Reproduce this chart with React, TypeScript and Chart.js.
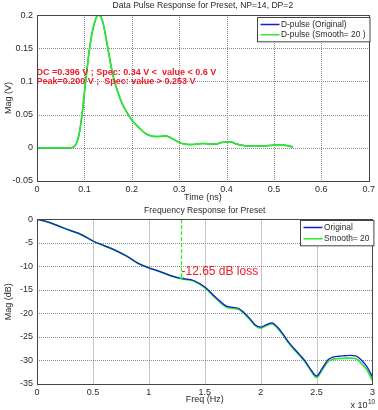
import React, { useEffect, useRef } from 'react';
import { Chart, registerables } from 'chart.js';
Chart.register(...registerables);

const FONT = '"Liberation Sans", Arial, Helvetica, sans-serif';

// ---------- Top chart: data pulse response ----------
const pulseTitle = 'Data Pulse Response for Preset, NP=14, DP=2';
const pulseLabels = ['D-pulse (Original)', 'D-pulse (Smooth= 20 )'];
const pulseTimes = [
  0, 0.01, 0.02, 0.03, 0.04, 0.05, 0.06, 0.07, 0.075, 0.08, 0.085, 0.09, 0.095,
  0.1, 0.105, 0.11, 0.115, 0.12, 0.125, 0.13, 0.135, 0.14, 0.145, 0.15, 0.155,
  0.16, 0.165, 0.17, 0.175, 0.18, 0.19, 0.2, 0.21, 0.22, 0.23, 0.24, 0.25, 0.26,
  0.27, 0.28, 0.29, 0.3, 0.31, 0.32, 0.33, 0.34, 0.35, 0.36, 0.37, 0.38, 0.39,
  0.4, 0.41, 0.42, 0.43, 0.44, 0.45, 0.46, 0.47, 0.48, 0.49, 0.5, 0.51, 0.52,
  0.53, 0.54,
];
const pulseOriginal = [
  0, 0, 0, 0, 0, 0, 0, 0, 0.0005, 0.003, 0.01, 0.025, 0.05,
  0.083, 0.115, 0.145, 0.168, 0.185, 0.196, 0.2, 0.197, 0.186, 0.168, 0.148, 0.128,
  0.11, 0.097, 0.085, 0.075, 0.066, 0.053, 0.042, 0.034, 0.027, 0.021, 0.018, 0.017, 0.017,
  0.018, 0.016, 0.012, 0.008, 0.006, 0.005, 0.005, 0.006, 0.0065, 0.006, 0.0055, 0.006, 0.008,
  0.009, 0.0085, 0.006, 0.004, 0.003, 0.0025, 0.0025, 0.0025, 0.0028, 0.0035, 0.004, 0.0042, 0.004,
  0.003, 0.001,
];
const pulseSmooth = [
  0, 0, 0, 0, 0, 0, 0, 0, 0.0005, 0.003, 0.01, 0.025, 0.05,
  0.083, 0.115, 0.145, 0.168, 0.185, 0.196, 0.2, 0.197, 0.186, 0.168, 0.148, 0.128,
  0.11, 0.097, 0.085, 0.075, 0.066, 0.053, 0.042, 0.034, 0.027, 0.021, 0.018, 0.017, 0.017,
  0.018, 0.016, 0.012, 0.008, 0.006, 0.005, 0.005, 0.006, 0.0065, 0.006, 0.0055, 0.006, 0.008,
  0.009, 0.0085, 0.006, 0.004, 0.003, 0.0025, 0.0025, 0.0025, 0.0028, 0.0035, 0.004, 0.0042, 0.004,
  0.003, 0.001,
];
const pulseAnnotations = [
  'DC =0.396 V ; Spec: 0.34 V <  value < 0.6 V',
  'Peak=0.200 V ;  Spec: value > 0.253 V',
];
const pulseAnnotationY = [0.114, 0.1];

// ---------- Bottom chart: frequency response ----------
const freqTitle = 'Frequency Response for Preset';
const freqLabels = ['Original', 'Smooth= 20'];
// frequency in units of 1e10 Hz
const freqs = [
  0, 0.1, 0.2, 0.3, 0.4, 0.5, 0.6, 0.7, 0.8, 0.9, 1.0, 1.1, 1.2, 1.3, 1.4, 1.5,
  1.6, 1.7, 1.8, 1.85, 1.9, 1.95, 2.0, 2.05, 2.1, 2.15, 2.2, 2.25, 2.3, 2.35, 2.4,
  2.45, 2.5, 2.55, 2.6, 2.65, 2.7, 2.75, 2.8, 2.85, 2.9, 2.95, 3.0,
];
const magOriginal = [
  0, -0.6, -1.5, -2.4, -3.3, -4.6, -5.6, -6.6, -7.8, -9.3, -10.3, -11.1, -12.0, -12.6, -13.0, -14.4,
  -16.6, -18.5, -18.9, -19.8, -21.0, -22.4, -22.9, -22.4, -22.0, -22.9, -24.4, -26.1, -27.5, -28.8, -30.2,
  -32.0, -33.3, -31.7, -29.9, -29.3, -29.1, -29.0, -28.9, -29.0, -29.9, -31.3, -33.5,
];
const magSmooth = [
  0, -0.6, -1.5, -2.4, -3.3, -4.6, -5.6, -6.6, -7.8, -9.3, -10.3, -11.1, -12.0, -12.65, -13.1, -14.5,
  -16.8, -18.7, -19.1, -20.0, -21.2, -22.6, -23.1, -22.6, -22.2, -23.1, -24.6, -26.3, -27.7, -29.0, -30.4,
  -32.2, -33.6, -32.0, -30.3, -29.7, -29.6, -29.55, -29.5, -29.6, -30.6, -32.0, -34.3,
];
const lossFreq = 1.29;
const lossValue = -12.65;
const lossText = '-12.65 dB loss';
const lossTextY = -11.1;

const BLUE = '#1a1ad8';
const GREEN = '#30e830';
const RED = '#ec1c2c';
const TEXT = '#2a2a2a';

const gridPlugin = {
  id: 'dottedGrid',
  beforeDatasetsDraw(chart: any) {
    const { ctx, chartArea } = chart;
    const xs = chart.scales.x, ys = chart.scales.y;
    ctx.save();
    ctx.strokeStyle = '#8a8a8a';
    ctx.lineWidth = 1;
    ctx.setLineDash([1, 1]);
    for (const t of xs.ticks) {
      const x = Math.round(xs.getPixelForValue(t.value)) + 0.5;
      ctx.beginPath();
      ctx.moveTo(x, chartArea.top);
      ctx.lineTo(x, chartArea.bottom);
      ctx.stroke();
    }
    for (const t of ys.ticks) {
      const y = Math.round(ys.getPixelForValue(t.value)) + 0.5;
      ctx.beginPath();
      ctx.moveTo(chartArea.left, y);
      ctx.lineTo(chartArea.right, y);
      ctx.stroke();
    }
    ctx.restore();
  },
};

function boxAndLegend(order: number[]) {
  return (chart: any) => {
    const { ctx, chartArea } = chart;
    ctx.save();
    ctx.setLineDash([]);
    ctx.strokeStyle = '#444';
    ctx.lineWidth = 1;
    ctx.strokeRect(Math.round(chartArea.left) + 0.5, Math.round(chartArea.top) + 0.5,
      Math.round(chartArea.right - chartArea.left), Math.round(chartArea.bottom - chartArea.top));
    // legend
    ctx.font = `8.4px ${FONT}`;
    const ds = chart.data.datasets;
    let maxW = 0;
    for (const i of order) maxW = Math.max(maxW, ctx.measureText(ds[i].label).width);
    const w = 24 + maxW + 4;
    const rowH = chart.options.legendRowH;
    const h = 7 + rowH * (order.length - 1) + 7;
    const x0 = Math.round(chartArea.right + 1 - w) + 0.5;
    const y0 = Math.round(chartArea.top + chart.options.legendTopOffset) + 0.5;
    ctx.fillStyle = '#fff';
    ctx.fillRect(x0, y0, w, h);
    ctx.strokeStyle = '#444';
    ctx.strokeRect(x0, y0, w, h);
    order.forEach((i, k) => {
      const y = y0 + 7 + k * rowH;
      ctx.strokeStyle = ds[i].borderColor;
      ctx.lineWidth = 1.5;
      ctx.beginPath();
      ctx.moveTo(x0 + 3, y);
      ctx.lineTo(x0 + 22, y);
      ctx.stroke();
      ctx.fillStyle = TEXT;
      ctx.textBaseline = 'middle';
      ctx.textAlign = 'left';
      ctx.fillText(ds[i].label, x0 + 23.5, y);
    });
    ctx.restore();
  };
}

function App() {
  const topRef = useRef<HTMLCanvasElement>(null);
  const botRef = useRef<HTMLCanvasElement>(null);

  useEffect(() => {
    const gridOpts = { display: false, drawTicks: false };
    const borderOpts = { display: false };
    const tickFont = { family: FONT, size: 9 };

    const topChart = new Chart(topRef.current!, {
      type: 'line',
      data: {
        datasets: [
          {
            label: pulseLabels[0],
            data: pulseTimes.map((t, i) => ({ x: t, y: pulseOriginal[i] })),
            borderColor: BLUE, borderWidth: 1.2, pointRadius: 0,
            cubicInterpolationMode: 'monotone', order: 2,
          },
          {
            label: pulseLabels[1],
            data: pulseTimes.map((t, i) => ({ x: t, y: pulseSmooth[i] })),
            borderColor: GREEN, borderWidth: 1.8, pointRadius: 0,
            cubicInterpolationMode: 'monotone', order: 1,
          },
        ],
      },
      options: {
        animation: false,
        responsive: false,
        legendTopOffset: 2,
        legendRowH: 10.3,
        layout: { padding: { left: 0, right: 5.5, top: 0, bottom: 0 } },
        plugins: {
          legend: { display: false },
          tooltip: { enabled: false },
          title: {
            display: true, text: pulseTitle, color: TEXT, fullSize: false,
            font: { family: FONT, size: 8.6, weight: 'normal' },
            padding: { top: 0, bottom: 4.7 },
          },
        },
        scales: {
          x: {
            type: 'linear', min: 0, max: 0.7,
            ticks: { stepSize: 0.1, font: tickFont, color: TEXT, padding: 3, maxRotation: 0,
              callback: (v: any) => String(Number(Number(v).toFixed(2))) },
            grid: gridOpts, border: borderOpts,
            title: { display: true, text: 'Time (ns)', color: TEXT, font: tickFont, padding: { top: 0, bottom: 2 } },
            afterFit: (s: any) => { s.height = 24; },
          },
          y: {
            type: 'linear', min: -0.05, max: 0.2,
            ticks: { stepSize: 0.05, font: tickFont, color: TEXT, padding: 4,
              callback: (v: any) => String(Number(Number(v).toFixed(2))) },
            grid: gridOpts, border: borderOpts,
            title: { display: true, text: 'Mag (V)', color: TEXT, font: tickFont, padding: { top: 3, bottom: 0 } },
            afterFit: (s: any) => { s.width = 37; },
          },
        },
      } as any,
      plugins: [gridPlugin, {
        id: 'topDecor',
        afterDatasetsDraw(chart: any) {
          const { ctx } = chart;
          const xs = chart.scales.x, ys = chart.scales.y;
          ctx.save();
          ctx.font = `bold 9px ${FONT}`;
          ctx.fillStyle = RED;
          ctx.textAlign = 'left';
          ctx.textBaseline = 'middle';
          pulseAnnotations.forEach((t, i) => {
            ctx.fillText(t, xs.getPixelForValue(0) - 0.5, ys.getPixelForValue(pulseAnnotationY[i]));
          });
          ctx.restore();
        },
        afterDraw: boxAndLegend([0, 1]),
      }],
    });

    const botChart = new Chart(botRef.current!, {
      type: 'line',
      data: {
        datasets: [
          {
            label: freqLabels[0],
            data: freqs.map((f, i) => ({ x: f, y: magOriginal[i] })),
            borderColor: BLUE, borderWidth: 1.3, pointRadius: 0,
            cubicInterpolationMode: 'monotone', order: 1,
          },
          {
            label: freqLabels[1],
            data: freqs.map((f, i) => ({ x: f, y: magSmooth[i] })),
            borderColor: GREEN, borderWidth: 1.8, pointRadius: 0,
            cubicInterpolationMode: 'monotone', order: 2,
          },
        ],
      },
      options: {
        animation: false,
        responsive: false,
        legendTopOffset: 0.5,
        legendRowH: 11.3,
        layout: { padding: { left: 0, right: 5.5, top: 0, bottom: 0 } },
        plugins: {
          legend: { display: false },
          tooltip: { enabled: false },
          title: {
            display: true, text: freqTitle, color: TEXT, fullSize: false,
            font: { family: FONT, size: 8.6, weight: 'normal' },
            padding: { top: 0, bottom: 4 },
          },
        },
        scales: {
          x: {
            type: 'linear', min: 0, max: 3,
            ticks: { stepSize: 0.5, font: tickFont, color: TEXT, padding: 3, maxRotation: 0,
              callback: (v: any) => String(Number(Number(v).toFixed(2))) },
            grid: gridOpts, border: borderOpts,
            title: { display: true, text: 'Freq (Hz)', color: TEXT, font: tickFont, padding: { top: 0, bottom: 5 } },
            afterFit: (s: any) => { s.height = 26; },
          },
          y: {
            type: 'linear', min: -35, max: 0,
            ticks: { stepSize: 5, font: tickFont, color: TEXT, padding: 4 },
            grid: gridOpts, border: borderOpts,
            title: { display: true, text: 'Mag (dB)', color: TEXT, font: tickFont, padding: { top: 3, bottom: 0 } },
            afterFit: (s: any) => { s.width = 37; },
          },
        },
      } as any,
      plugins: [gridPlugin, {
        id: 'botDecor',
        afterDatasetsDraw(chart: any) {
          const { ctx, chartArea } = chart;
          const xs = chart.scales.x, ys = chart.scales.y;
          const lx = Math.round(xs.getPixelForValue(lossFreq)) + 0.5;
          ctx.save();
          ctx.strokeStyle = GREEN;
          ctx.lineWidth = 1.2;
          ctx.setLineDash([4, 2]);
          ctx.beginPath();
          ctx.moveTo(lx, ys.getPixelForValue(0));
          ctx.lineTo(lx, ys.getPixelForValue(lossValue));
          ctx.stroke();
          ctx.setLineDash([]);
          const by = ys.getPixelForValue(lossValue);
          ctx.beginPath();
          ctx.moveTo(lx - 2, by - 2);
          ctx.lineTo(lx, by);
          ctx.lineTo(lx + 2, by - 2);
          ctx.stroke();
          ctx.font = `12px ${FONT}`;
          ctx.fillStyle = RED;
          ctx.textAlign = 'left';
          ctx.textBaseline = 'middle';
          ctx.fillText(lossText, lx, ys.getPixelForValue(lossTextY));
          // exponent label
          ctx.fillStyle = TEXT;
          ctx.font = `9px ${FONT}`;
          ctx.textBaseline = 'alphabetic';
          const ex = chartArea.right - 22;
          const ey = chartArea.bottom + 23.5;
          ctx.fillText('x 10', ex, ey);
          const w = ctx.measureText('x 10').width;
          ctx.font = `6.5px ${FONT}`;
          ctx.fillText('10', ex + w + 0.5, ey - 4);
          ctx.restore();
        },
        afterDraw: boxAndLegend([0, 1]),
      }],
    });

    return () => { topChart.destroy(); botChart.destroy(); };
  }, []);

  return (
    <div style={{ position: 'absolute', left: 0, top: 0, width: 378, height: 410, background: '#fff' }}>
      <canvas ref={topRef} width={378} height={205} style={{ display: 'block', width: 378, height: 205 }} />
      <canvas ref={botRef} width={378} height={205} style={{ display: 'block', width: 378, height: 205 }} />
    </div>
  );
}

export default App;
